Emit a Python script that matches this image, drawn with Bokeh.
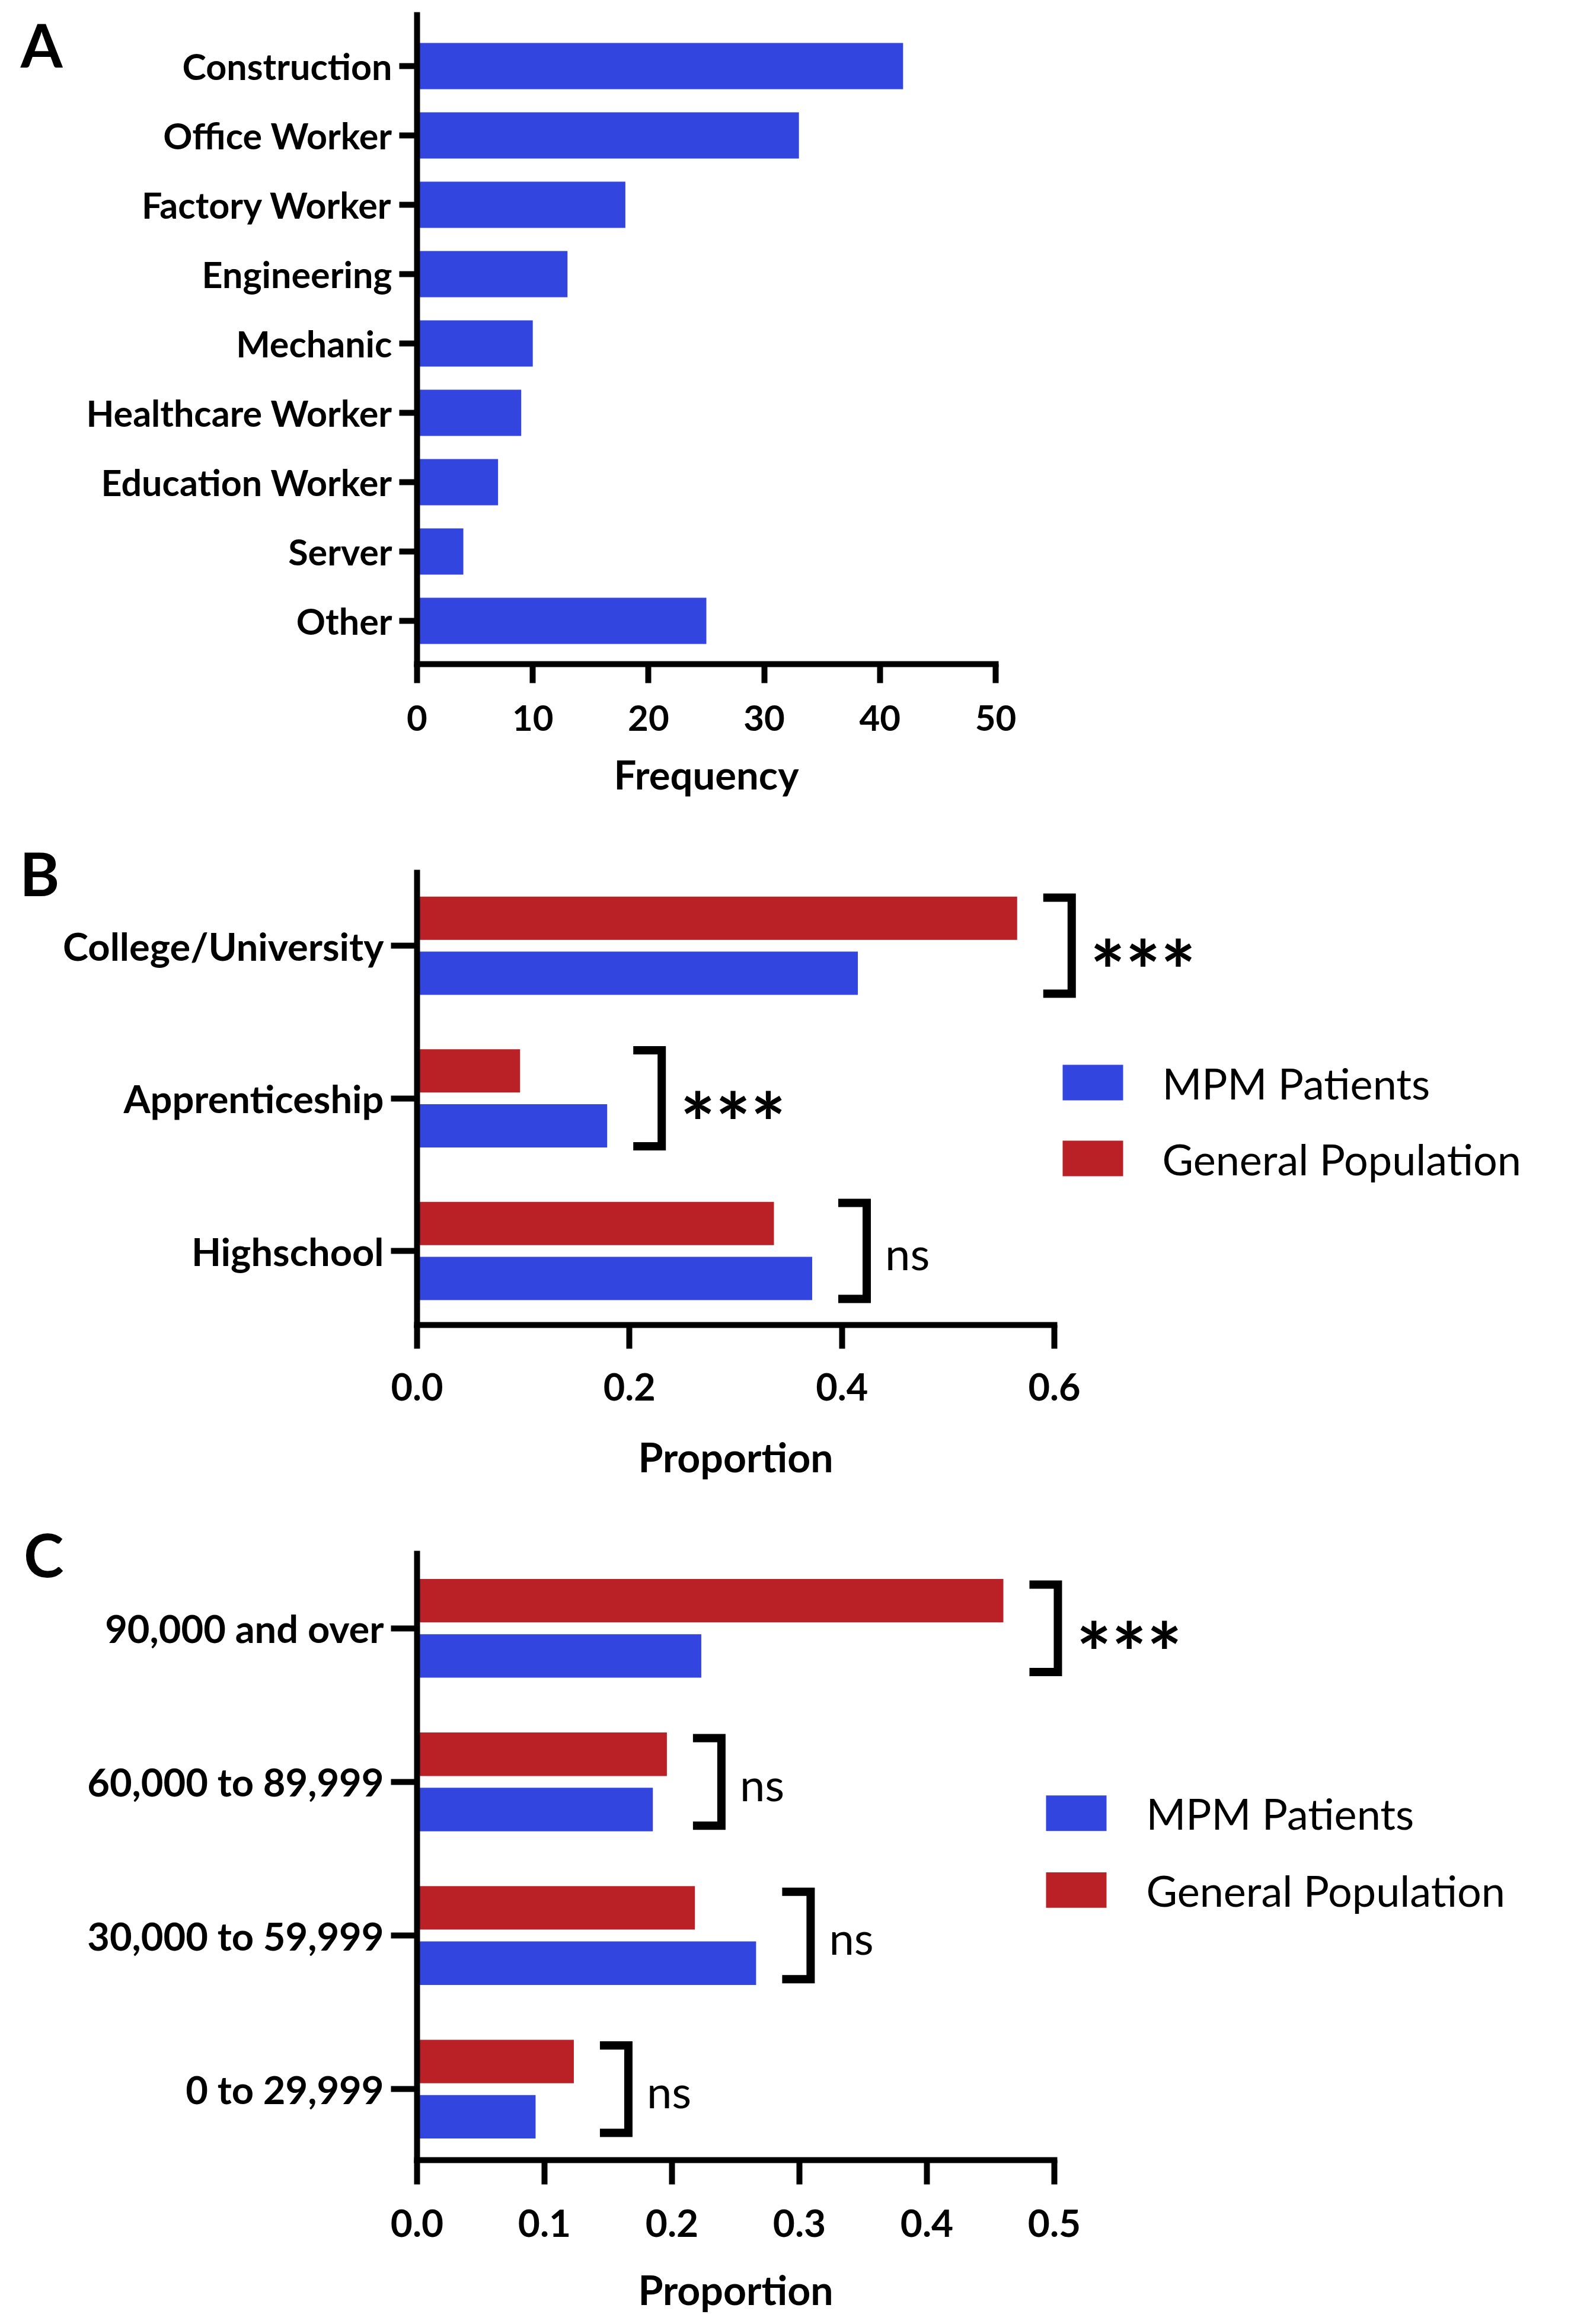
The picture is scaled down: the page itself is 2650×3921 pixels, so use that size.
from bokeh.plotting import figure
from bokeh.models import Range1d, FixedTicker, NumeralTickFormatter, PrintfTickFormatter, LinearAxis
from bokeh.embed import file_html
from bokeh.resources import INLINE
from bokeh.core.properties import value

# ---------------- data ----------------
occupations = ["Construction", "Office Worker", "Factory Worker", "Engineering", "Mechanic",
               "Healthcare Worker", "Education Worker", "Server", "Other"]
occupation_freq = [42, 33, 18, 13, 10, 9, 7, 4, 25]
freq_ticks = [0, 10, 20, 30, 40, 50]

education_levels = ["College/University", "Apprenticeship", "Highschool"]
education_mpm = [0.415, 0.179, 0.372]
education_gen = [0.565, 0.097, 0.336]
education_sig = ["***", "***", "ns"]
edu_ticks = [0.0, 0.2, 0.4, 0.6]

income_levels = ["90,000 and over", "60,000 to 89,999", "30,000 to 59,999", "0 to 29,999"]
income_mpm = [0.223, 0.185, 0.266, 0.093]
income_gen = [0.460, 0.196, 0.218, 0.123]
income_sig = ["***", "ns", "ns", "ns"]
inc_ticks = [0.0, 0.1, 0.2, 0.3, 0.4, 0.5]

series_names = ["MPM Patients", "General Population"]
panel_letters = ["A", "B", "C"]

# ---------------- style ----------------
FONT = "Lato"
BLUE = "#3245DE"
RED = "#BA2126"
W = 2634
FRAME_LEFT_PAGE = 711
LETTER_SIZE = "102px"


def base_fig(height, x_end, y0, y1, b_right, b_top, b_bottom):
    p = figure(width=W, height=height, output_backend="svg", toolbar_location=None,
               x_range=Range1d(0, x_end), y_range=Range1d(y0, y1),
               min_border_left=FRAME_LEFT_PAGE - 8, min_border_right=b_right,
               min_border_top=b_top, min_border_bottom=b_bottom)
    p.outline_line_color = None
    p.background_fill_color = "white"
    p.border_fill_color = "white"
    p.xgrid.visible = False
    p.ygrid.visible = False
    for ax in (p.xaxis[0], p.yaxis[0]):
        ax.axis_line_width = 10
        ax.axis_line_color = "black"
        ax.axis_line_cap = "square"
        ax.major_tick_line_width = 10
        ax.major_tick_line_color = "black"
        ax.major_tick_in = 0
        ax.minor_tick_line_color = None
        ax.major_label_text_font = FONT
        ax.major_label_text_font_style = "bold"
        ax.major_label_text_color = "black"
        ax.axis_label_text_font = FONT
        ax.axis_label_text_font_style = "bold"
        ax.axis_label_text_color = "black"
    return p


def set_axes(p, xticks, xfmt, xlabel, x_tick_out, x_std, x_lab_std, x_tick_size, x_lab_size,
             ypos, ylabels, y_tick_out, y_std, y_size, bounds=None):
    xa = p.xaxis[0]
    xa.ticker = FixedTicker(ticks=xticks)
    xa.formatter = NumeralTickFormatter(format=xfmt)
    xa.major_tick_out = x_tick_out
    xa.major_label_standoff = x_std
    xa.major_label_text_font_size = x_tick_size
    if xlabel is not None:
        xa.axis_label = xlabel
        xa.axis_label_text_font_size = x_lab_size
        xa.axis_label_standoff = x_lab_std
    if bounds is not None:
        xa.bounds = bounds
    ya = p.yaxis[0]
    ya.ticker = FixedTicker(ticks=ypos)
    ya.major_label_overrides = {y: lab for y, lab in zip(ypos, ylabels)}
    ya.major_tick_out = y_tick_out
    ya.major_label_standoff = y_std
    ya.major_label_text_font_size = y_size


def plain_axis(tick, text, size, standoff):
    """Invisible axis carrying a single label (no line, no tick mark)."""
    return LinearAxis(ticker=FixedTicker(ticks=[tick]), formatter=PrintfTickFormatter(format=text),
                      axis_line_color=None, major_tick_line_color=None,
                      minor_tick_line_color=None, major_tick_in=0, major_tick_out=0,
                      major_label_standoff=standoff, major_label_text_font=FONT,
                      major_label_text_font_size=size, major_label_text_font_style="bold",
                      major_label_text_color="black")


def panel_letter(p, text, y, standoff):
    # stacked to the left of the category axis
    p.add_layout(plain_axis(y, text, LETTER_SIZE, standoff), "left")


def x_title(p, ticks, text, size, standoff):
    # axis title centred under the drawn part of the x axis
    p.add_layout(plain_axis((ticks[0] + ticks[-1]) / 2.0, text, size, standoff), "below")


# ================= Panel A =================
A_Y0, A_Y1 = -0.624, 8.735
pA = base_fig(1392, 50, A_Y0, A_Y1, 955, 25, 272)
nA = len(occupations)
yA = list(range(nA - 1, -1, -1))
pA.hbar(y=yA, left=0, right=occupation_freq, height=0.667, fill_color=BLUE, line_color=None)
set_axes(pA, freq_ticks, "0", "Frequency", 32, 37, 30, "60px", "67px",
         yA, occupations, 30, 12, "61px")
pxA_y = 1095 / (A_Y1 - A_Y0)
panel_letter(pA, panel_letters[0], A_Y1 - (57 - 33) / pxA_y, 37)


# ================= grouped panels =================
def grouped(p, levels, mpm, gen, sig, px_x, px_y, half_px, frame_top_page, y1,
            legend_sq_x, legend_sq_y, legend_text_x):
    n = len(levels)
    ys = list(range(n - 1, -1, -1))
    off = 0.18
    bh = 0.283
    p.hbar(y=[y - off for y in ys], left=0, right=mpm, height=bh, fill_color=BLUE, line_color=None)
    p.hbar(y=[y + off for y in ys], left=0, right=gen, height=bh, fill_color=RED, line_color=None)

    # significance brackets
    lw = 14
    gap_px, arm_px = 44, 55
    bxs, bys = [], []
    star_x, star_y, ns_x, ns_y = [], [], [], []
    for y, a, b, s in zip(ys, mpm, gen, sig):
        xl = max(a, b) + gap_px / px_x
        xv = xl + (arm_px - lw / 2) / px_x
        yt = y + (half_px - lw / 2) / px_y
        yb = y - (half_px - lw / 2) / px_y
        bxs.append([xl, xv, xv, xl])
        bys.append([yt, yt, yb, yb])
        tx = xl + (arm_px + 24) / px_x
        if s == "***":
            star_x.append(tx)
            star_y.append(y - 40 / px_y)
        else:
            ns_x.append(tx)
            ns_y.append(y - 3 / px_y)
    p.multi_line(bxs, bys, line_width=lw, line_color="black", line_join="miter", line_cap="butt")
    if star_x:
        p.text(x=star_x, y=star_y, text=["***"] * len(star_x), text_font=value(FONT),
               text_font_size=value("140px"), text_font_style="bold", text_color="black",
               text_baseline="middle", text_align="left")
    if ns_x:
        p.text(x=ns_x, y=ns_y, text=["ns"] * len(ns_x), text_font=value(FONT),
               text_font_size=value("76px"), text_font_style="normal", text_color="black",
               text_baseline="middle", text_align="left")

    # legend
    to_x = lambda px: (px - FRAME_LEFT_PAGE) / px_x
    to_y = lambda py: y1 - (py - frame_top_page) / px_y
    sx0, sx1 = legend_sq_x
    leg_y = [to_y(v) for v in legend_sq_y]
    p.rect(x=[to_x((sx0 + sx1) / 2)] * 2, y=leg_y,
           width=(sx1 - sx0) / px_x, height=60 / px_y,
           fill_color=[BLUE, RED], line_color=None)
    p.text(x=[to_x(legend_text_x)] * 2, y=leg_y, text=series_names,
           text_font=value(FONT), text_font_size=value("72px"), text_font_style="normal",
           text_color="black", text_baseline="middle", text_align="left")
    return ys


# ---- Panel B ----
B_XEND = 1.0722
B_Y0, B_Y1 = -0.485, 2.478
pB = base_fig(1130, B_XEND, B_Y0, B_Y1, 10, 80, 287)
pxB_x = 1921 / B_XEND
pxB_y = 763 / (B_Y1 - B_Y0)
yB = grouped(pB, education_levels, education_mpm, education_gen, education_sig,
             pxB_x, pxB_y, 88, 1480, B_Y1, (1800, 1902), (1834, 1962), 1968)
set_axes(pB, edu_ticks, "0.0", None, 40, 41, 0, "63px", None,
         yB, education_levels, 44, 12, "65px", bounds=(edu_ticks[0], edu_ticks[-1]))
x_title(pB, edu_ticks, "Proportion", "68px", 51)
panel_letter(pB, panel_letters[1], B_Y1 - 1e-6, 3)

# ---- Panel C ----
C_XEND = 0.8935
C_Y0, C_Y1 = -0.462, 3.485
pC = base_fig(1383, C_XEND, C_Y0, C_Y1, 10, 99, 258)
pxC_x = 1921 / C_XEND
pxC_y = 1026 / (C_Y1 - C_Y0)
yC = grouped(pC, income_levels, income_mpm, income_gen, income_sig,
             pxC_x, pxC_y, 81, 2629, C_Y1, (1772, 1874), (3068, 3198), 1941)
set_axes(pC, inc_ticks, "0.0", None, 41, 42, 0, "64px", None,
         yC, income_levels, 44, 12, "65px", bounds=(inc_ticks[0], inc_ticks[-1]))
x_title(pC, inc_ticks, "Proportion", "68px", 45)
panel_letter(pC, panel_letters[2], C_Y1 - 1e-6, 37)

# three independent roots stacked vertically (no cross-plot frame alignment)
open("out.html", "w").write(file_html([pA, pB, pC], INLINE))
